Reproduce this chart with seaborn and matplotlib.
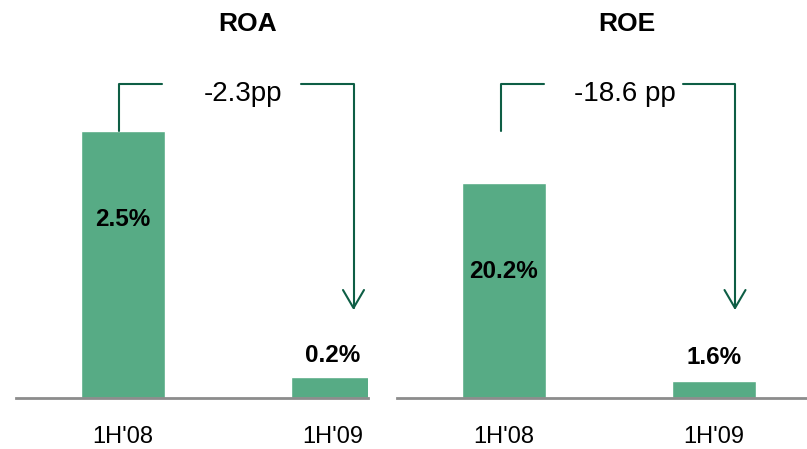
import seaborn as sns
import matplotlib.pyplot as plt

# data
periods = ["1H'08", "1H'09"]
roa = [2.5, 0.2]
roe = [20.2, 1.6]
roa_labels = ["2.5%", "0.2%"]
roe_labels = ["20.2%", "1.6%"]
roa_change = "-2.3pp"
roe_change = "-18.6 pp"

BAR = "#57AB85"
LINE = "#0E5E45"
W, H = 807, 449
BASE = 398  # baseline pixel row (from top)

sns.set_style("white")
plt.rcParams['font.family'] = ['Liberation Sans', 'DejaVu Sans']
plt.rcParams['text.color'] = 'black'
plt.rcParams['xtick.color'] = 'black'

fig = plt.figure(figsize=(W / 100, H / 100), dpi=100)


def panel(left_px, right_px, c0_px, vals, labels, change, title, title_x, top, label_px):
    x0 = -(c0_px - left_px) / 210
    x1 = x0 + (right_px - left_px) / 210
    ax = fig.add_axes([left_px / W, (H - BASE) / H, (right_px - left_px) / W, BASE / H])
    sns.barplot(x=periods, y=vals, ax=ax, color=BAR, saturation=1, width=0.4)
    ax.set_xlim(x0, x1)
    ax.set_ylim(0, top)
    py = lambda p: (BASE - p) / BASE * top

    for s in ["left", "right", "top"]:
        ax.spines[s].set_visible(False)
    ax.spines["bottom"].set_color("#8c8c8c")
    ax.spines["bottom"].set_linewidth(2)
    ax.set_yticks([])
    ax.tick_params(axis="x", length=0, pad=20, labelsize=17, labelcolor="black")
    ax.set_xlabel("")
    ax.set_ylabel("")

    # value labels
    for i, (lab, lp) in enumerate(zip(labels, label_px)):
        ax.text(i, py(lp), lab, ha="center", va="baseline", fontsize=17.5,
                fontweight="bold", color="black")

    # bracket with arrow
    ytop, ybot, ytip = py(84), py(130.7), py(308)
    ax.plot([-0.015, -0.015, 0.19], [ybot, ytop, ytop], color=LINE, lw=1.5, clip_on=False)
    ax.plot([0.852, 1.1, 1.1], [ytop, ytop, ytip], color=LINE, lw=1.5, clip_on=False)
    ax.plot([1.1 - 0.05, 1.1, 1.1 + 0.05], [py(290), ytip, py(290)],
            color=LINE, lw=1.5, clip_on=False)
    ax.text(0.576, py(100.7), change, ha="center", va="baseline", fontsize=20, color="black")

    fig.text(title_x / W, (H - 30.7) / H, title, ha="center", va="baseline",
             fontsize=19, fontweight="bold", color="black")
    return ax


panel(16, 368, 122.5, roa, roa_labels, roa_change, "ROA", 248, BASE / 106.8, [225.7, 361.7])
panel(397, 807, 504, roe, roe_labels, roe_change, "ROE", 627, BASE / 10.64, [278.3, 364.5])

plt.savefig("out.png", dpi=100)
